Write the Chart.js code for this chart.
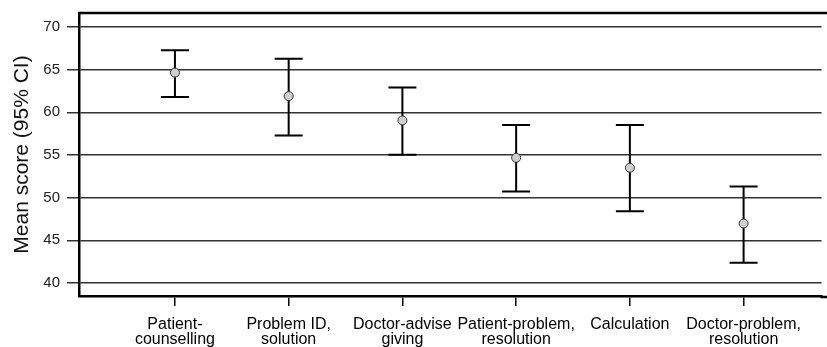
<!DOCTYPE html>
<html>
<head>
<meta charset="utf-8">
<script src="https://cdn.jsdelivr.net/npm/chart.js@4"></script>
<style>
  html, body { margin: 0; padding: 0; background: #fff; overflow: hidden; }
  #wrap { position: relative; width: 827px; height: 347px; }
</style>
</head>
<body>
<div id="wrap"><canvas id="scores"></canvas></div>
<script>
// categories (split over two lines like the original axis)
var categories = [
    ['Patient-', 'counselling'],
    ['Problem ID,', 'solution'],
    ['Doctor-advise', 'giving'],
    ['Patient-problem,', 'resolution'],
    ['Calculation'],
    ['Doctor-problem,', 'resolution']
];
var meanScores = [64.65, 61.9, 59.05, 54.67, 53.5, 46.96];
var ciLower = [61.78, 57.29, 55.02, 50.72, 48.4, 42.38];
var ciUpper = [67.27, 66.29, 62.92, 58.5, 58.5, 51.3];
var yTicks = [40, 45, 50, 55, 60, 65, 70];

var fontFamily = '"Liberation Sans", Arial, Helvetica, sans-serif';

// error bars drawn under the points
var errorBars = {
    id: 'errorBars',
    beforeDatasetsDraw: function (chart) {
        var ctx = chart.ctx;
        var xs = chart.scales.x, ys = chart.scales.y;
        ctx.save();
        ctx.strokeStyle = '#000';
        ctx.lineWidth = 2;
        for (var i = 0; i < meanScores.length; i++) {
            var x = xs.getPixelForValue(i);
            var top = ys.getPixelForValue(ciUpper[i]);
            var bot = ys.getPixelForValue(ciLower[i]);
            ctx.beginPath();
            ctx.moveTo(x, top); ctx.lineTo(x, bot);
            ctx.moveTo(x - 14, top); ctx.lineTo(x + 14, top);
            ctx.moveTo(x - 14, bot); ctx.lineTo(x + 14, bot);
            ctx.stroke();
        }
        ctx.restore();
    }
};

// top line of the frame, and the frame carried on to the right edge
var frameTop = {
    id: 'frameTop',
    afterDraw: function (chart) {
        var a = chart.chartArea, ctx = chart.ctx;
        ctx.save();
        ctx.strokeStyle = '#000';
        ctx.lineWidth = 2.5;
        ctx.beginPath();
        ctx.moveTo(a.left - 1, a.top);
        ctx.lineTo(chart.width, a.top);
        ctx.moveTo(a.right - 1, a.bottom + 1);
        ctx.lineTo(chart.width, a.bottom + 1);
        ctx.stroke();
        ctx.restore();
    }
};

var ctx = document.getElementById('scores').getContext('2d');
var scoreChart = new Chart(ctx, {
    type: 'scatter',
    data: {
        datasets: [{
            data: meanScores.map(function (v, i) { return { x: i, y: v }; }),
            pointRadius: 4.5,
            pointHoverRadius: 4.5,
            backgroundColor: '#cfcfcf',
            borderColor: '#333',
            borderWidth: 1
        }]
    },
    options: {
        responsive: true,
        maintainAspectRatio: false,
        animation: false,
        events: [],
        layout: { padding: { top: 13, left: 0, right: 0, bottom: 0 } },
        plugins: {
            legend: { display: false },
            tooltip: { enabled: false }
        },
        scales: {
            x: {
                type: 'linear',
                min: -0.8436,
                max: 5.685,
                afterBuildTicks: function (scale) {
                    scale.ticks = categories.map(function (c, i) { return { value: i }; });
                },
                afterFit: function (scale) {
                    scale.height = 51;
                    scale.paddingLeft = 0;
                    scale.paddingRight = 0;
                },
                grid: {
                    drawOnChartArea: false,
                    drawTicks: true,
                    tickLength: 10,
                    color: '#000',
                    lineWidth: 1.5
                },
                border: { display: true, color: '#000', width: 2.5 },
                ticks: {
                    autoSkip: false,
                    maxRotation: 0,
                    minRotation: 0,
                    padding: 11,
                    color: '#000',
                    font: { family: fontFamily, size: 16, lineHeight: 0.95 },
                    callback: function (value) { return categories[value]; }
                }
            },
            y: {
                min: 38.47,
                max: 71.64,
                afterBuildTicks: function (scale) {
                    scale.ticks = yTicks.map(function (v) { return { value: v }; });
                },
                afterFit: function (scale) {
                    scale.width = 79;
                    scale.paddingTop = 0;
                    scale.paddingBottom = 0;
                },
                grid: {
                    drawOnChartArea: true,
                    drawTicks: true,
                    tickLength: 12,
                    color: '#333',
                    lineWidth: 1.5
                },
                border: { display: true, color: '#000', width: 2.5 },
                ticks: {
                    padding: 7,
                    color: '#222',
                    font: { family: fontFamily, size: 15 }
                },
                title: {
                    display: true,
                    text: 'Mean score (95% CI)',
                    color: '#111',
                    font: { family: fontFamily, size: 21 },
                    padding: { top: 10, bottom: 0 }
                }
            }
        }
    },
    plugins: [errorBars, frameTop]
});
</script>
</body>
</html>
